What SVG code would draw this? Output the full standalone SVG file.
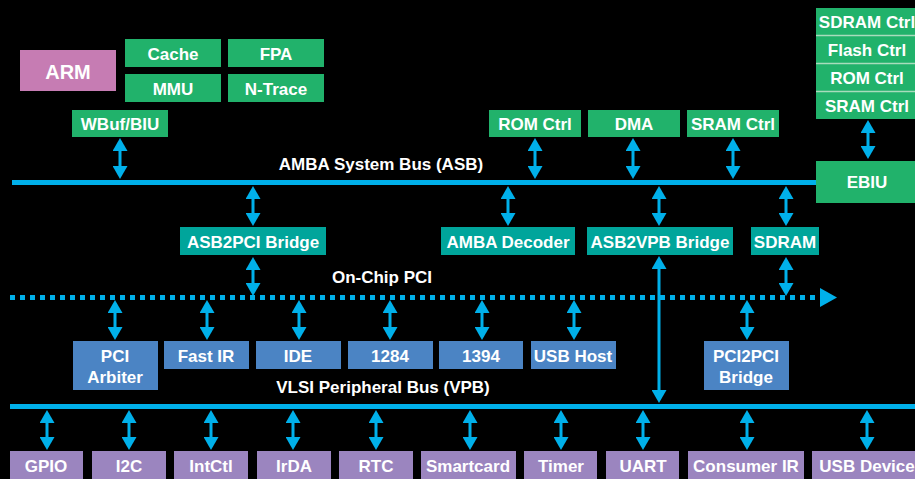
<svg xmlns="http://www.w3.org/2000/svg" width="915" height="479" viewBox="0 0 915 479">
<style>
text{font-family:"Liberation Sans",Arial,sans-serif;font-weight:bold;fill:#fff;text-anchor:middle;font-size:17px}
.g{fill:#21b26b}.t{fill:#00a59b}.b{fill:#4b84c4}.p{fill:#9b85bf}.pk{fill:#c67cb3}
.bus{stroke:#00b0ea;stroke-width:5;fill:none}
.ar{stroke:#00b0ea;stroke-width:3;fill:none;marker-start:url(#ah);marker-end:url(#ah)}
.sep{stroke:#a8dcbc;stroke-width:1.5}
</style>
<defs>
<marker id="ah" viewBox="0 0 13 15" refX="0.5" refY="7.5" markerWidth="13" markerHeight="15" markerUnits="userSpaceOnUse" orient="auto-start-reverse"><path d="M0,0 L13,7.5 L0,15 Z" fill="#00b0ea"/></marker>
</defs>
<rect width="915" height="479" fill="#000"/>
<g id="arm"><rect class="pk" x="20" y="50" width="96" height="41"/><text x="68" y="79" style="font-size:20px">ARM</text></g>
<g id="cache"><rect class="g" x="125" y="39" width="96" height="28"/><text x="173" y="60">Cache</text></g>
<g id="fpa"><rect class="g" x="228" y="39" width="96" height="28"/><text x="276" y="60">FPA</text></g>
<g id="mmu"><rect class="g" x="125" y="74" width="96" height="28"/><text x="173" y="95">MMU</text></g>
<g id="ntrace"><rect class="g" x="228" y="74" width="96" height="28"/><text x="276" y="95">N-Trace</text></g>
<g id="wbuf"><rect class="g" x="72" y="110" width="96" height="27"/><text x="120" y="130">WBuf/BIU</text></g>
<g id="romctrl"><rect class="g" x="489" y="110" width="92" height="27"/><text x="535" y="130">ROM Ctrl</text></g>
<g id="dma"><rect class="g" x="588" y="110" width="92" height="27"/><text x="634" y="130">DMA</text></g>
<g id="sramctrl"><rect class="g" x="687" y="110" width="92" height="27"/><text x="733" y="130">SRAM Ctrl</text></g>
<g id="memstack"><rect class="g" x="816" y="8" width="104" height="111"/>
<line class="sep" x1="816" y1="35.5" x2="920" y2="35.5"/><line class="sep" x1="816" y1="63.5" x2="920" y2="63.5"/><line class="sep" x1="816" y1="91.5" x2="920" y2="91.5"/>
<text x="867" y="28">SDRAM Ctrl</text><text x="867" y="56">Flash Ctrl</text><text x="867" y="84">ROM Ctrl</text><text x="867" y="112">SRAM Ctrl</text></g>
<g id="ebiu"><rect class="g" x="816" y="161" width="104" height="42"/><text x="867" y="188">EBIU</text></g>
<g id="asb2pci"><rect class="t" x="180" y="227" width="146" height="28"/><text x="253" y="248">ASB2PCI Bridge</text></g>
<g id="ambadec"><rect class="t" x="441" y="227" width="134" height="28"/><text x="508" y="248">AMBA Decoder</text></g>
<g id="asb2vpb"><rect class="t" x="587" y="227" width="146" height="28"/><text x="660" y="248">ASB2VPB Bridge</text></g>
<g id="sdram"><rect class="t" x="751" y="227" width="68" height="28"/><text x="785" y="248">SDRAM</text></g>
<g id="pciarb"><rect class="b" x="73" y="341" width="85" height="49"/><text x="115" y="362">PCI</text><text x="115" y="383">Arbiter</text></g>
<g id="fastir"><rect class="b" x="164" y="341" width="85" height="28"/><text x="206" y="362">Fast IR</text></g>
<g id="ide"><rect class="b" x="256" y="341" width="85" height="28"/><text x="298" y="362">IDE</text></g>
<g id="p1284"><rect class="b" x="348" y="341" width="85" height="28"/><text x="390" y="362">1284</text></g>
<g id="p1394"><rect class="b" x="439" y="341" width="84" height="28"/><text x="481" y="362">1394</text></g>
<g id="usbhost"><rect class="b" x="531" y="341" width="85" height="28"/><text x="573" y="362">USB Host</text></g>
<g id="pci2pci"><rect class="b" x="704" y="341" width="85" height="49"/><text x="746" y="362">PCI2PCI</text><text x="746" y="383">Bridge</text></g>
<g id="gpio"><rect class="p" x="10" y="451" width="73" height="30"/><text x="46" y="472">GPIO</text></g>
<g id="i2c"><rect class="p" x="92" y="451" width="74" height="30"/><text x="129" y="472">I2C</text></g>
<g id="intctl"><rect class="p" x="174" y="451" width="74" height="30"/><text x="211" y="472">IntCtl</text></g>
<g id="irda"><rect class="p" x="257" y="451" width="74" height="30"/><text x="294" y="472">IrDA</text></g>
<g id="rtc"><rect class="p" x="339" y="451" width="74" height="30"/><text x="376" y="472">RTC</text></g>
<g id="smartcard"><rect class="p" x="421" y="451" width="95" height="30"/><text x="468" y="472">Smartcard</text></g>
<g id="timer"><rect class="p" x="524" y="451" width="73" height="30"/><text x="561" y="472">Timer</text></g>
<g id="uart"><rect class="p" x="606" y="451" width="73" height="30"/><text x="643" y="472">UART</text></g>
<g id="consir"><rect class="p" x="688" y="451" width="116" height="30"/><text x="746" y="472">Consumer IR</text></g>
<g id="usbdev"><rect class="p" x="812" y="451" width="110" height="30"/><text x="867" y="472">USB Device</text></g>
<g id="buses">
<line class="bus" x1="12" y1="182.5" x2="816" y2="182.5"/>
<text x="381" y="170">AMBA System Bus (ASB)</text>
<line class="bus" x1="10" y1="297.5" x2="820" y2="297.5" stroke-dasharray="5 5"/>
<path d="M820,288 L837,297.5 L820,307 Z" fill="#00b0ea"/>
<text x="382" y="283">On-Chip PCI</text>
<line class="bus" x1="10" y1="406.5" x2="915" y2="406.5"/>
<text x="383" y="393">VLSI Peripheral Bus (VPB)</text>
</g>
<g id="connectors">
<line class="ar" x1="120" y1="150.5" x2="120" y2="166.5"/>
<line class="ar" x1="535" y1="150.5" x2="535" y2="166.5"/>
<line class="ar" x1="633" y1="150.5" x2="633" y2="166.5"/>
<line class="ar" x1="733" y1="150.5" x2="733" y2="166.5"/>
<line class="ar" x1="868" y1="132.5" x2="868" y2="146.5"/>
<line class="ar" x1="253" y1="198.5" x2="253" y2="213.5"/>
<line class="ar" x1="508" y1="198.5" x2="508" y2="213.5"/>
<line class="ar" x1="659" y1="198.5" x2="659" y2="213.5"/>
<line class="ar" x1="786" y1="198.5" x2="786" y2="213.5"/>
<line class="ar" x1="253" y1="269.5" x2="253" y2="283.5"/>
<line class="ar" x1="786" y1="269.5" x2="786" y2="283.5"/>
<line class="ar" x1="659" y1="268.5" x2="659" y2="390.5"/>
<line class="ar" x1="115" y1="312.5" x2="115" y2="327.5"/>
<line class="ar" x1="207" y1="312.5" x2="207" y2="327.5"/>
<line class="ar" x1="299" y1="312.5" x2="299" y2="327.5"/>
<line class="ar" x1="390" y1="312.5" x2="390" y2="327.5"/>
<line class="ar" x1="482" y1="312.5" x2="482" y2="327.5"/>
<line class="ar" x1="574" y1="312.5" x2="574" y2="327.5"/>
<line class="ar" x1="747" y1="312.5" x2="747" y2="327.5"/>
<line class="ar" x1="47" y1="422.5" x2="47" y2="437.5"/>
<line class="ar" x1="129" y1="422.5" x2="129" y2="437.5"/>
<line class="ar" x1="211" y1="422.5" x2="211" y2="437.5"/>
<line class="ar" x1="293" y1="422.5" x2="293" y2="437.5"/>
<line class="ar" x1="376" y1="422.5" x2="376" y2="437.5"/>
<line class="ar" x1="470" y1="422.5" x2="470" y2="437.5"/>
<line class="ar" x1="561" y1="422.5" x2="561" y2="437.5"/>
<line class="ar" x1="643" y1="422.5" x2="643" y2="437.5"/>
<line class="ar" x1="747" y1="422.5" x2="747" y2="437.5"/>
<line class="ar" x1="867" y1="422.5" x2="867" y2="437.5"/>
</g>
</svg>
